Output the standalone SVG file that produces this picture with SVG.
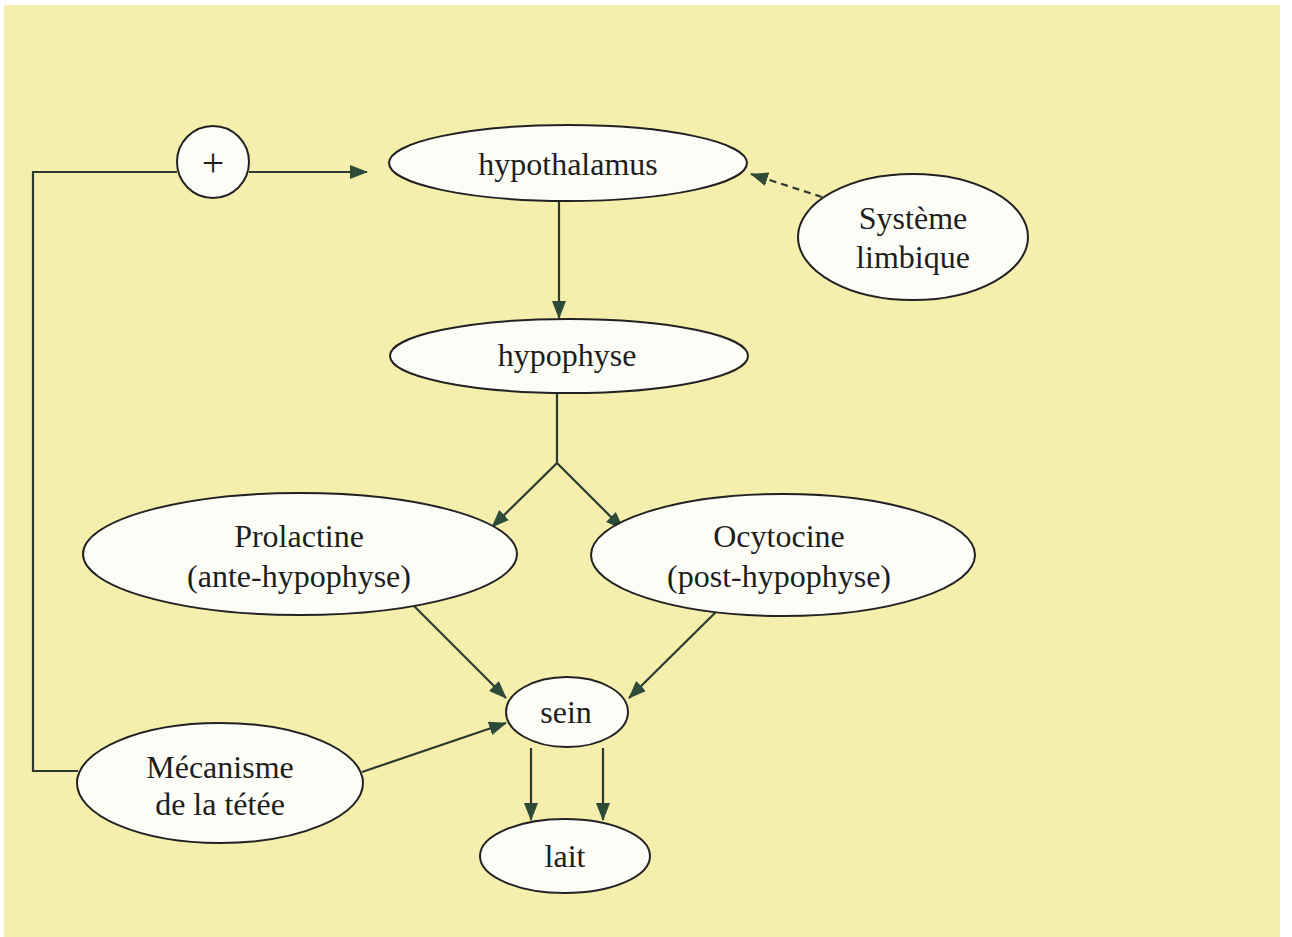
<svg xmlns="http://www.w3.org/2000/svg" width="1292" height="937" viewBox="0 0 1292 937">
<style>
.node{fill:#fdfdf8;stroke:#222;stroke-width:2}
.lbl{font-family:"Liberation Serif","Times New Roman",serif;font-size:32px;fill:#1e1e1e;text-anchor:middle}
.edge{fill:none;stroke:#2c3a30;stroke-width:2.2}
.dash{stroke-dasharray:7 5}
</style>
<defs>
<marker id="ah" viewBox="0 0 18 14" refX="17" refY="7" markerWidth="18" markerHeight="14" markerUnits="userSpaceOnUse" orient="auto">
<path d="M0,0 L18,7 L0,14 Z" fill="#2e4a38"/>
</marker>
</defs>
<rect x="0" y="0" width="1292" height="937" fill="#ffffff"/>
<rect x="4" y="5" width="1276" height="932" fill="#f5eeac"/>
<g id="connectors">
<polyline class="edge" points="78,771 33,771 33,172 177,172"/>
<line class="edge" x1="249" y1="172" x2="367" y2="172" marker-end="url(#ah)"/>
<line class="edge" x1="559" y1="201" x2="559" y2="318" marker-end="url(#ah)"/>
<line class="edge dash" x1="822" y1="197" x2="751" y2="174" marker-end="url(#ah)"/>
<polyline class="edge" points="557,393 557,463 492,527" marker-end="url(#ah)"/>
<line class="edge" x1="557" y1="463" x2="623" y2="529" marker-end="url(#ah)"/>
<line class="edge" x1="414" y1="606" x2="506" y2="698" marker-end="url(#ah)"/>
<line class="edge" x1="723" y1="605" x2="629" y2="698" marker-end="url(#ah)"/>
<line class="edge" x1="362" y1="772" x2="506" y2="723" marker-end="url(#ah)"/>
<line class="edge" x1="531" y1="748" x2="531" y2="820" marker-end="url(#ah)"/>
<line class="edge" x1="603" y1="748" x2="603" y2="820" marker-end="url(#ah)"/>
</g>
<g id="plus">
<circle class="node" cx="213" cy="162" r="36"/>
<text class="lbl" x="213" y="176" style="font-size:40px">+</text>
</g>
<g id="hypothalamus">
<ellipse class="node" cx="568" cy="163" rx="179" ry="38"/>
<text class="lbl" x="568" y="175">hypothalamus</text>
</g>
<g id="systeme-limbique">
<ellipse class="node" cx="913" cy="237" rx="115" ry="63"/>
<text class="lbl" x="913" y="229">Système</text>
<text class="lbl" x="913" y="268">limbique</text>
</g>
<g id="hypophyse">
<ellipse class="node" cx="569" cy="356" rx="179" ry="37"/>
<text class="lbl" x="567" y="366">hypophyse</text>
</g>
<g id="prolactine">
<ellipse class="node" cx="300" cy="554" rx="217" ry="61"/>
<text class="lbl" x="299" y="547">Prolactine</text>
<text class="lbl" x="299" y="587">(ante-hypophyse)</text>
</g>
<g id="ocytocine">
<ellipse class="node" cx="783" cy="555" rx="192" ry="61"/>
<text class="lbl" x="779" y="547">Ocytocine</text>
<text class="lbl" x="779" y="587">(post-hypophyse)</text>
</g>
<g id="sein">
<ellipse class="node" cx="567" cy="712" rx="61" ry="35"/>
<text class="lbl" x="566" y="723">sein</text>
</g>
<g id="mecanisme">
<ellipse class="node" cx="220" cy="783" rx="143" ry="60"/>
<text class="lbl" x="220" y="778">Mécanisme</text>
<text class="lbl" x="220" y="815">de la tétée</text>
</g>
<g id="lait">
<ellipse class="node" cx="565" cy="856" rx="85" ry="37"/>
<text class="lbl" x="565" y="867">lait</text>
</g>
</svg>
